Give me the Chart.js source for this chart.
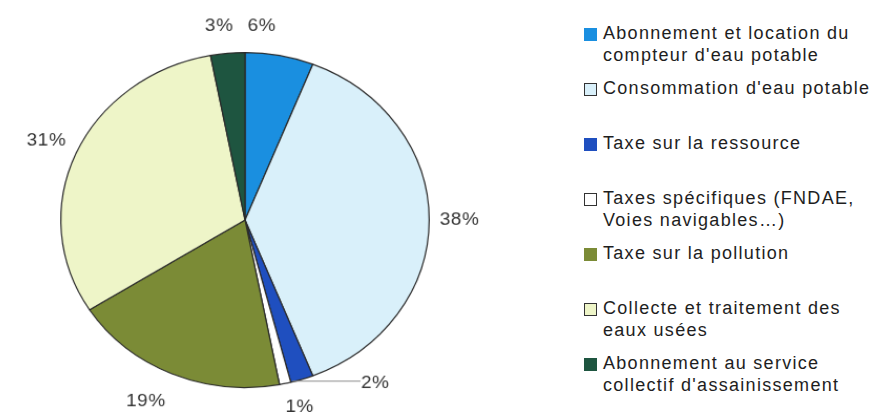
<!DOCTYPE html>
<html>
<head>
<meta charset="utf-8">
<script src="https://cdn.jsdelivr.net/npm/chart.js@4.4.0/dist/chart.umd.min.js"></script>
<style>
  html, body { margin: 0; padding: 0; background: #fff; }
  #page { position: relative; width: 874px; height: 413px; overflow: hidden; }
  /* the original pie is a little wider than tall */
  #pieBox { position: absolute; left: 0; top: 0; width: 490px; height: 430px; transform: scale(1.05, 0.955); transform-origin: 245px 220px; }
  #legend { position: absolute; left: 584px; top: 22px; width: 320px; font-family: "Liberation Sans", Arial, sans-serif; font-size: 18px; color: #1e1e1e; letter-spacing: 1.3px; }
  .item { position: relative; height: 55px; line-height: 22px; padding-left: 19px; white-space: nowrap; }
  .box { position: absolute; left: 0; top: 6px; width: 13px; height: 13px; box-sizing: border-box; }
</style>
</head>
<body>
<div id="page">
  <div id="pieBox"><canvas id="pieChart"></canvas></div>
  <div id="legend"></div>
</div>
<script>
const categories = [
  ["Abonnement et location du", "compteur d'eau potable"],
  ["Consommation d'eau potable"],
  ["Taxe sur la ressource"],
  ["Taxes spécifiques (FNDAE,", "Voies navigables\u2026)"],
  ["Taxe sur la pollution"],
  ["Collecte et traitement des", "eaux usées"],
  ["Abonnement au service", "collectif d'assainissement"]
];
const shares = [6, 38, 2, 1, 19, 31, 3];
const sliceColors = ["#1a8fe0", "#d9f0fa", "#1f4fbf", "#ffffff", "#7b8b36", "#eef5c8", "#1e5540"];
const lightSlices = [false, true, false, true, false, true, false];

// nudges to move the percent labels where the original chart had them
const labelNudge = {
  0: [-21, -9], 1: [7, 0], 2: [63, -17], 3: [9, 3],
  4: [-16, 9], 5: [-8, -5], 6: [-6, -6]
};

const outsideLabels = {
  id: "outsideLabels",
  afterDatasetsDraw(chart) {
    const ctx = chart.ctx;
    const meta = chart.getDatasetMeta(0);
    ctx.save();
    ctx.font = "18px 'Liberation Sans', Arial, sans-serif";
    ctx.letterSpacing = "0.6px";
    ctx.fillStyle = "#333";
    ctx.textAlign = "center";
    ctx.textBaseline = "middle";
    meta.data.forEach((arc, i) => {
      const mid = (arc.startAngle + arc.endAngle) / 2;
      const r = arc.outerRadius + 22;
      const n = labelNudge[i] || [0, 0];
      const x = arc.x + Math.cos(mid) * r + n[0];
      const y = arc.y + Math.sin(mid) * r + n[1];
      if (i === 2) {
        const ly = y - 2;
        const dy = ly - arc.y;
        const ex = arc.x + Math.sqrt(Math.max(0, arc.outerRadius * arc.outerRadius - dy * dy));
        ctx.strokeStyle = "#888";
        ctx.lineWidth = 1;
        ctx.beginPath();
        ctx.moveTo(ex - 3, ly);
        ctx.lineTo(x - 14, ly);
        ctx.stroke();
      }
      ctx.fillText(shares[i] + "%", x, y);
    });
    ctx.restore();
  }
};

new Chart(document.getElementById("pieChart"), {
  type: "pie",
  data: {
    labels: categories.map(c => c.join(" ")),
    datasets: [{
      data: shares,
      backgroundColor: sliceColors,
      borderColor: "#2a2a2a",
      borderWidth: 1.2
    }]
  },
  options: {
    responsive: true,
    maintainAspectRatio: false,
    animation: false,
    events: [],
    layout: { padding: { top: 44, bottom: 34, left: 0, right: 0 } },
    plugins: {
      legend: { display: false },
      tooltip: { enabled: false }
    }
  },
  plugins: [outsideLabels]
});

const legend = document.getElementById("legend");
categories.forEach((lines, i) => {
  const item = document.createElement("div");
  item.className = "item";
  const box = document.createElement("span");
  box.className = "box";
  box.style.background = sliceColors[i];
  box.style.border = lightSlices[i] ? "1.5px solid #333" : "none";
  item.appendChild(box);
  lines.forEach(t => {
    const line = document.createElement("div");
    line.textContent = t;
    item.appendChild(line);
  });
  legend.appendChild(item);
});
</script>
</body>
</html>
